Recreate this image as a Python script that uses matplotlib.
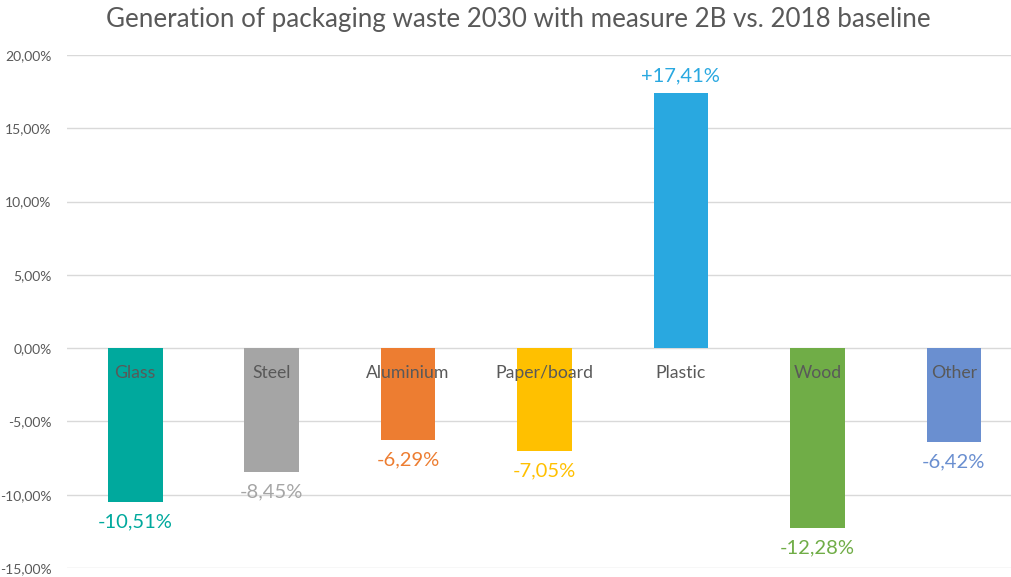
import matplotlib
matplotlib.use("Agg")
import matplotlib.pyplot as plt
from matplotlib.ticker import FuncFormatter

categories = ["Glass", "Steel", "Aluminium", "Paper/board", "Plastic", "Wood", "Other"]
values = [-10.51, -8.45, -6.29, -7.05, 17.41, -12.28, -6.42]
colors = ["#00A99D", "#A5A5A5", "#ED7D31", "#FFC000", "#29A8E0", "#70AD47", "#6A8FD0"]
yticks = [-15, -10, -5, 0, 5, 10, 15, 20]

plt.rcParams['font.family'] = ['Lato', 'DejaVu Sans']

fig = plt.figure(figsize=(10.11, 5.77), dpi=100)
ax = fig.add_axes([67/1011, 1-568/577, (1022-67)/1011, (568-55)/577])

x = list(range(len(categories)))
ax.bar(x, values, width=0.40, color=colors, zorder=3)

ax.set_ylim(-15, 20)
ax.set_xlim(-0.5, len(categories) - 0.5)
ax.set_yticks(yticks)
ax.yaxis.set_major_formatter(FuncFormatter(lambda v, p: f"{v:.2f}%".replace(".", ",")))
ax.tick_params(axis='y', length=0, labelsize=10, labelcolor="#595959", pad=11)
ax.set_xticks([])
ax.grid(axis='y', color="#D9D9D9", linewidth=1, zorder=0)
for s in ax.spines.values():
    s.set_visible(False)

for xi, cat in zip(x, categories):
    ax.text(xi, -1.7, cat, ha='center', va='center', fontsize=12.7, color="#595959", zorder=4)

for xi, v, c in zip(x, values, colors):
    txt = (f"+{v:.2f}%" if v > 0 else f"{v:.2f}%").replace(".", ",")
    if v > 0:
        ax.text(xi, v + 0.6, txt, ha='center', va='bottom', fontsize=14.5, color=c)
    else:
        ax.text(xi, v - 0.75, txt, ha='center', va='top', fontsize=14.5, color=c)

fig.text(518/1011, 1-20/577, "Generation of packaging waste 2030 with measure 2B vs. 2018 baseline",
         ha='center', va='center', fontsize=18.7, color="#595959")

fig.savefig("out.png", dpi=100)
